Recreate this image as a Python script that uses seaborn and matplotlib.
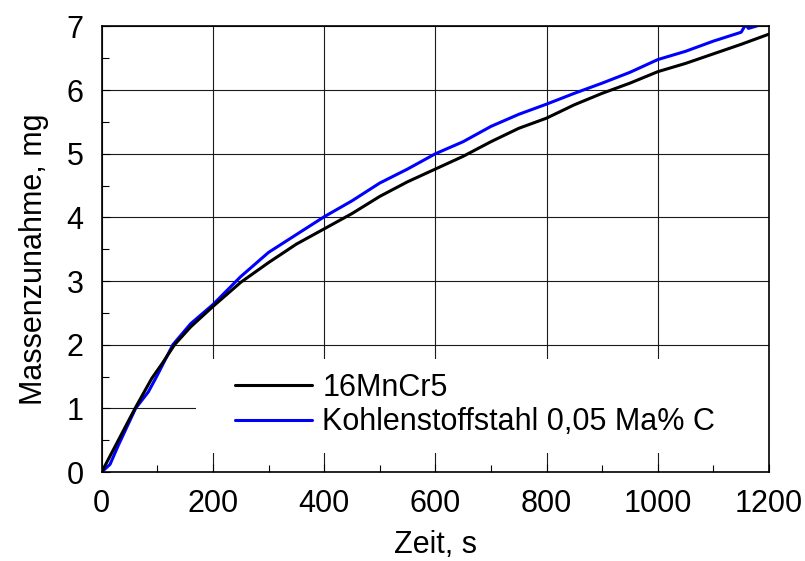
import numpy as np
import pandas as pd
import matplotlib.pyplot as plt
import seaborn as sns
from matplotlib.patches import Rectangle
from matplotlib.ticker import MultipleLocator

# values (Zeit in s, Massenzunahme in mg)
zeit_16mncr5 = [0, 30, 60, 90, 110, 131, 160, 200, 250, 300, 350, 400, 450, 500, 550,
                600, 650, 700, 750, 800, 850, 900, 950, 1000, 1050, 1100, 1150, 1200]
masse_16mncr5 = [0, 0.5, 1.0, 1.47, 1.72, 2.0, 2.28, 2.6, 2.98, 3.29, 3.58, 3.82, 4.06, 4.33, 4.56,
                 4.76, 4.96, 5.19, 5.40, 5.56, 5.77, 5.95, 6.11, 6.29, 6.42, 6.57, 6.72, 6.88]

zeit_kstahl = [0, 15, 30, 61, 84, 100, 128, 160, 200, 250, 300, 350, 400, 450, 500, 550,
               600, 650, 700, 750, 800, 850, 900, 950, 1000, 1050, 1100, 1150, 1158, 1163,
               1175, 1200]
masse_kstahl = [0, 0.12, 0.42, 1.0, 1.26, 1.52, 2.0, 2.33, 2.63, 3.07, 3.45, 3.73, 4.01, 4.26,
                4.54, 4.76, 5.0, 5.19, 5.43, 5.62, 5.78, 5.95, 6.11, 6.28, 6.48, 6.61, 6.77,
                6.91, 7.03, 6.97, 7.0, 7.07]

label_16mncr5 = "16MnCr5"
label_kstahl = "Kohlenstoffstahl 0,05 Ma% C"

df_a = pd.DataFrame({"Zeit": zeit_16mncr5, "Masse": masse_16mncr5})
df_b = pd.DataFrame({"Zeit": zeit_kstahl, "Masse": masse_kstahl})

sns.set_style("white")
plt.rcParams["font.family"] = ["Liberation Sans", "DejaVu Sans"]
plt.rcParams["font.size"] = 22
plt.rcParams["text.color"] = "black"
plt.rcParams["axes.labelcolor"] = "black"
plt.rcParams["xtick.color"] = "black"
plt.rcParams["ytick.color"] = "black"

fig = plt.figure(figsize=(8.05, 5.61), dpi=100)
ax = fig.add_axes([0.1263, 0.1586, 0.8290, 0.7942])

sns.lineplot(data=df_b, x="Zeit", y="Masse", color="#0000ff", linewidth=2.2,
             label=label_kstahl, ax=ax, legend=False)
sns.lineplot(data=df_a, x="Zeit", y="Masse", color="black", linewidth=2.2,
             label=label_16mncr5, ax=ax, legend=False)

ax.set_xlim(0, 1200)
ax.set_ylim(0, 7)
ax.xaxis.set_major_locator(MultipleLocator(200))
ax.xaxis.set_minor_locator(MultipleLocator(100))
ax.yaxis.set_major_locator(MultipleLocator(1))
ax.yaxis.set_minor_locator(MultipleLocator(0.5))

ax.set_axisbelow(True)
ax.grid(True, which="major", color="0.1", linewidth=0.8)
ax.tick_params(axis="both", which="both", direction="in", bottom=True, left=True,
               top=False, right=False, labelsize=22, colors="black")
ax.tick_params(axis="both", which="major", length=6, width=0.8)
ax.tick_params(axis="both", which="minor", length=5, width=0.8)
ax.tick_params(axis="x", which="major", pad=12)
ax.tick_params(axis="y", which="major", pad=13)

for sp in ax.spines.values():
    sp.set_color("black")
    sp.set_linewidth(1.2)

ax.set_xlabel("Zeit, s", fontsize=22, labelpad=8, color="black")
ax.set_ylabel("Massenzunahme, mg", fontsize=22, color="black")
ax.yaxis.set_label_coords(-0.0784, 0.478)

# white area behind the legend hides the grid there
ax.add_patch(Rectangle((0.142, 0.043), 0.858, 0.21, transform=ax.transAxes,
                       facecolor="white", edgecolor="none", zorder=1))

lines = ax.get_lines()
leg = ax.legend(handles=[lines[1], lines[0]], labels=[label_16mncr5, label_kstahl],
                loc="center left", bbox_to_anchor=(0.2, 0.1506), frameon=False,
                borderpad=0, borderaxespad=0, handlelength=2.5, handletextpad=0.35,
                labelspacing=0.15, fontsize=22)
for t in leg.get_texts():
    t.set_color("black")

fig.savefig("out.png", dpi=100)
